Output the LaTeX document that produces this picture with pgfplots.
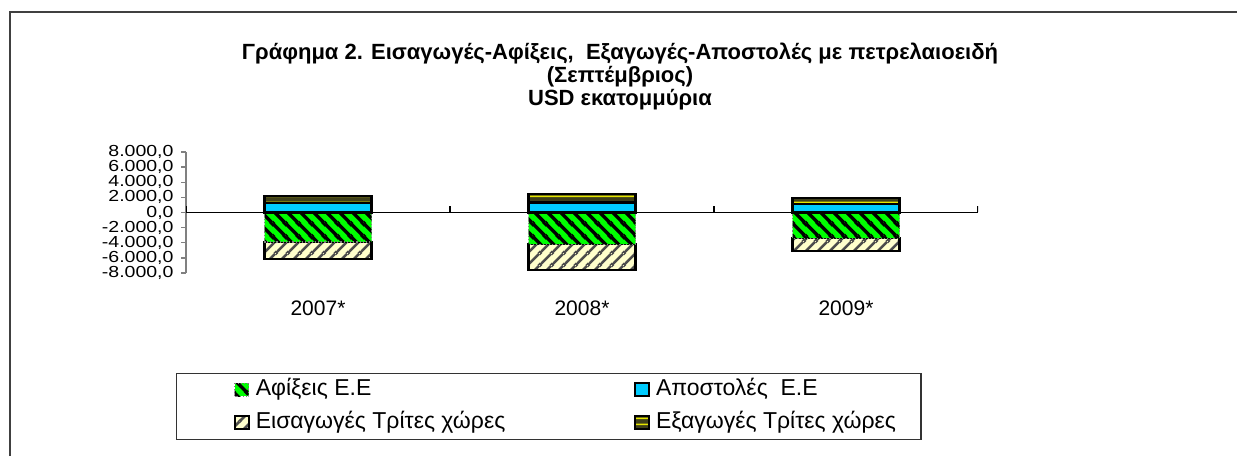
\documentclass[border=0pt]{standalone}
\usepackage{fontspec}
\setmainfont{Liberation Sans}
\usepackage{pgfplots}
\pgfplotsset{compat=1.18}
\usetikzlibrary{patterns}

\definecolor{afgreen}{HTML}{00FF00}
\definecolor{apoblue}{HTML}{00CCFF}
\definecolor{eisyellow}{HTML}{FFFFCC}
\definecolor{exaolive}{HTML}{3F3F1A}
\definecolor{exayellow}{HTML}{E6E600}
\definecolor{axisgray}{HTML}{808080}

% thick "\" stripes, 6.5pt period
\pgfdeclarepatternformonly{grnstripes}{\pgfqpoint{0pt}{0pt}}{\pgfqpoint{6.5pt}{6.5pt}}{\pgfqpoint{6.5pt}{6.5pt}}{
  \pgfsetlinewidth{1.8pt}
  \pgfpathmoveto{\pgfqpoint{0pt}{6.5pt}}\pgfpathlineto{\pgfqpoint{6.5pt}{0pt}}
  \pgfpathmoveto{\pgfqpoint{-3.25pt}{3.25pt}}\pgfpathlineto{\pgfqpoint{3.25pt}{-3.25pt}}
  \pgfpathmoveto{\pgfqpoint{3.25pt}{9.75pt}}\pgfpathlineto{\pgfqpoint{9.75pt}{3.25pt}}
  \pgfusepath{stroke}}
% "/" stripes, 6pt period
\pgfdeclarepatternformonly{yelstripes}{\pgfqpoint{0pt}{0pt}}{\pgfqpoint{6pt}{6pt}}{\pgfqpoint{6pt}{6pt}}{
  \pgfsetlinewidth{1.3pt}
  \pgfpathmoveto{\pgfqpoint{0pt}{0pt}}\pgfpathlineto{\pgfqpoint{6pt}{6pt}}
  \pgfpathmoveto{\pgfqpoint{-3pt}{3pt}}\pgfpathlineto{\pgfqpoint{3pt}{9pt}}
  \pgfpathmoveto{\pgfqpoint{3pt}{-3pt}}\pgfpathlineto{\pgfqpoint{9pt}{3pt}}
  \pgfusepath{stroke}}
% horizontal lines, 3pt period
\pgfdeclarepatternformonly{hlines}{\pgfqpoint{0pt}{0pt}}{\pgfqpoint{1pt}{3pt}}{\pgfqpoint{1pt}{3pt}}{
  \pgfsetlinewidth{0.8pt}
  \pgfpathmoveto{\pgfqpoint{-0.5pt}{1.5pt}}\pgfpathlineto{\pgfqpoint{1.5pt}{1.5pt}}
  \pgfusepath{stroke}}

\tikzset{
  afx/.style={preaction={fill=afgreen}, pattern=grnstripes,
    pattern color=black, draw=gray, densely dotted, line width=0.6pt},
  apo/.style={fill=apoblue, draw=black, line width=1.1pt},
  eis/.style={preaction={fill=eisyellow}, pattern=yelstripes,
    pattern color=black!70, draw=black, line width=1.1pt},
  exa/.style={preaction={fill=exaolive}, pattern=hlines,
    pattern color=exayellow, draw=black, line width=1.1pt},
}
\pgfplotsset{
  chartbox/.style={scale only axis, width=396pt, height=60.5pt,
    at={(93pt,91.5pt)}, anchor=south west,
    ybar stacked, bar width=53.5pt,
    xmin=0, xmax=3, ymin=-8000, ymax=8000},
}

\begin{document}
\begin{tikzpicture}
\path[use as bounding box] (0pt,0pt) rectangle (618.5pt,228pt);
% chart area frame (top and left edges)
\draw[black!75, line width=0.75pt] (5pt,0pt) -- (5pt,222pt) -- (618.5pt,222pt);

\node[font=\bfseries\fontsize{11}{11.5}\selectfont, align=center] at (310pt,189.5pt)
  {Γράφημα 2. Εισαγωγές-Αφίξεις,\ \ Εξαγωγές-Αποστολές με πετρελαιοειδή\\(Σεπτέμβριος)\\USD εκατομμύρια};

% negative stack: Αφίξεις Ε.Ε then Εισαγωγές Τρίτες χώρες
\begin{axis}[
    chartbox,
    axis x line*=bottom, axis y line*=left,
    x axis line style={draw=none},
    y axis line style={draw=axisgray, line width=0.7pt, -},
    xtick={0.5,1.5,2.5}, xticklabels={2007*,2008*,2009*},
    xtick style={draw=none},
    xticklabel style={font=\fontsize{10.5}{12}\selectfont, anchor=center, yshift=-15pt},
    ytick={-8000,-6000,-4000,-2000,0,2000,4000,6000,8000},
    ytick style={draw=axisgray, line width=0.7pt},
    tick align=outside, major tick length=2.5pt,
    yticklabel={\scalebox{1.22}[1]{\pgfmathprintnumber{\tick}}},
    yticklabel style={font=\fontsize{8}{8}\selectfont, xshift=-0.2pt, inner ysep=0pt,
      /pgf/number format/.cd, fixed, fixed zerofill, precision=1, 1000 sep={.}, use comma, assume math mode=true},
    legend image code/.code={\draw[#1] (0pt,-3.25pt) rectangle (7pt,3.25pt);},
    legend columns=2, transpose legend,
    legend style={at={(-0.0126,-0.824)}, anchor=north west, draw=black!80, line width=0.6pt,
      inner xsep=28.5pt, inner ysep=0pt, font=\fontsize{11.5}{13}\selectfont,
      nodes={inner xsep=0pt, inner ysep=3pt, text height=8pt, text depth=2.5pt},
      /tikz/every odd column/.append style={column sep=3pt}},
]
\addplot[afx] coordinates {(0.5,-3900) (1.5,-4190) (2.5,-3400)};
\addlegendentry{\makebox[189pt][l]{Αφίξεις Ε.Ε}}
\addplot[eis] coordinates {(0.5,-2270) (1.5,-3460) (2.5,-1660)};
\addlegendentry{\makebox[189pt][l]{Εισαγωγές Τρίτες χώρες}}
\addlegendimage{apo}
\addlegendentry{\makebox[104pt][l]{Αποστολές\ \ Ε.Ε}}
\addlegendimage{exa}
\addlegendentry{\makebox[104pt][l]{Εξαγωγές Τρίτες χώρες}}
\end{axis}

% positive stack: Αποστολές Ε.Ε then Εξαγωγές Τρίτες χώρες
\begin{axis}[chartbox, hide axis]
\addplot[apo] coordinates {(0.5,1270) (1.5,1310) (2.5,1090)};
\addplot[exa] coordinates {(0.5,960) (1.5,1180) (2.5,870)};
% zero line with category ticks
\draw[black, line width=0.7pt] (axis cs:0,0) -- (axis cs:3,0);
\draw[black, line width=0.7pt] (axis cs:0,0) -- ++(0pt,3pt);
\draw[black, line width=0.7pt] (axis cs:1,0) -- ++(0pt,3pt);
\draw[black, line width=0.7pt] (axis cs:2,0) -- ++(0pt,3pt);
\draw[black, line width=0.7pt] (axis cs:3,0) -- ++(0pt,3pt);
\draw[black, line width=0.6pt] (axis cs:0.5,0) -- ++(0pt,2pt);
\draw[black, line width=0.6pt] (axis cs:1.5,0) -- ++(0pt,2pt);
\draw[black, line width=0.6pt] (axis cs:2.5,0) -- ++(0pt,2pt);
\end{axis}
\end{tikzpicture}
\end{document}
